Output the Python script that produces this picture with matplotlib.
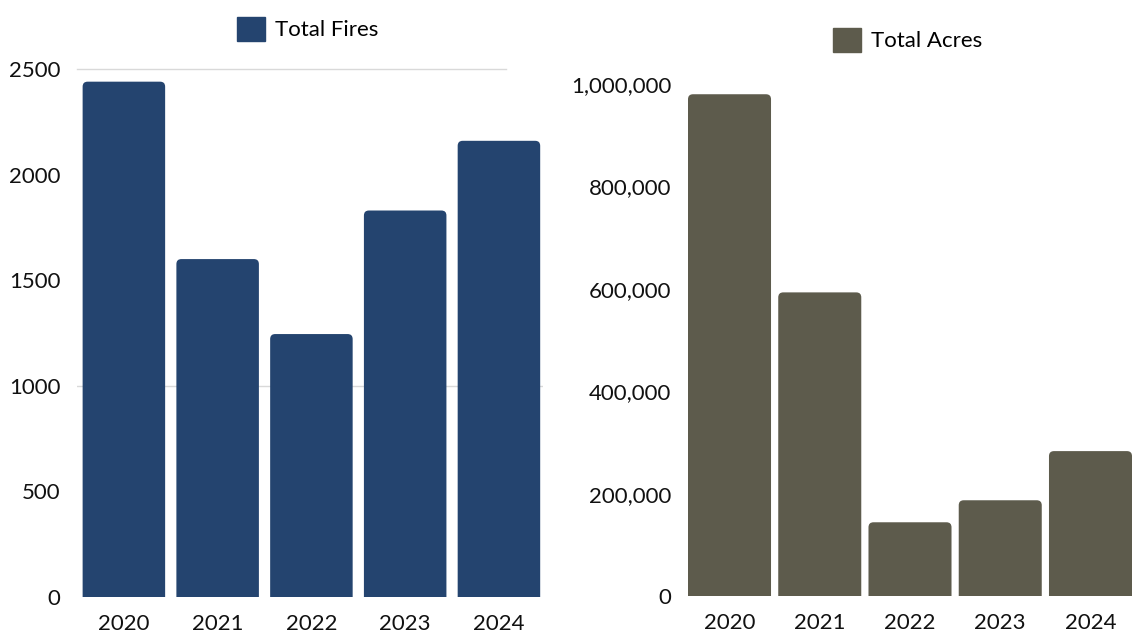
import matplotlib
matplotlib.use('Agg')
import matplotlib.pyplot as plt
from matplotlib.patches import Patch, FancyBboxPatch
from matplotlib.ticker import FuncFormatter

plt.rcParams['font.family'] = ['Lato', 'DejaVu Sans']

# data
years = ['2020', '2021', '2022', '2023', '2024']
total_fires = [2440, 1600, 1245, 1830, 2160]
total_acres = [980000, 593000, 144000, 187000, 283000]

fire_color = '#24446f'
acre_color = '#5d5b4c'

fig = plt.figure(figsize=(11.32, 6.33), dpi=100)


def round_tops(ax, bars, radius_px=5):
    # swap plain bars for ones with rounded top corners
    fig.canvas.draw()
    tr = ax.transData
    x0, y0 = tr.transform((0, 0))
    x1, y1 = tr.transform((1, 1))
    px_x = abs(x1 - x0)
    px_y = abs(y1 - y0)
    rx = radius_px / px_x
    ry = radius_px / px_y
    for b in bars:
        b.set_visible(False)
        fb = FancyBboxPatch((b.get_x(), -ry * 2), b.get_width(), b.get_height() + ry * 2,
                            boxstyle=f'round,pad=0,rounding_size={rx}',
                            mutation_aspect=ry / rx, facecolor=b.get_facecolor(),
                            edgecolor='none', zorder=2)
        ax.add_patch(fb)


# left chart: fires
ax1 = fig.add_axes([77 / 1132, 36 / 633, 466 / 1132, 528 / 633])
bars1 = ax1.bar(range(len(years)), total_fires, width=0.88, color=fire_color, zorder=2)
ax1.set_xlim(-0.5, 4.47)
ax1.set_ylim(0, 2500)
ax1.set_yticks([0, 500, 1000, 1500, 2000, 2500])
ax1.axhline(2500, xmin=0, xmax=0.92, color='#d9d9d9', linewidth=1, zorder=0, clip_on=False)
ax1.axhline(1000, color='#d9d9d9', linewidth=1, zorder=0)

# right chart: acres
ax2 = fig.add_axes([688 / 1132, 37 / 633, 444 / 1132, 512 / 633])
bars2 = ax2.bar(range(len(years)), total_acres, width=0.92, color=acre_color, zorder=2)
ax2.set_xlim(-0.46, 4.46)
ax2.set_ylim(0, 1000000)
ax2.set_yticks([0, 200000, 400000, 600000, 800000, 1000000])
ax2.yaxis.set_major_formatter(FuncFormatter(lambda v, p: f'{int(v):,}'))

for ax in (ax1, ax2):
    ax.set_xticks(range(len(years)))
    ax.set_xticklabels(years)
    for s in ax.spines.values():
        s.set_visible(False)
    ax.tick_params(axis='both', length=0, labelsize=16, colors='#111111')
    ax.tick_params(axis='x', pad=12)
    ax.tick_params(axis='y', pad=12)

round_tops(ax1, bars1)
round_tops(ax2, bars2)

fig.legend(handles=[Patch(color=fire_color, label='Total Fires')], loc='center',
           bbox_to_anchor=(308 / 1132, 1 - 29 / 633), frameon=False, fontsize=16,
           handlelength=1.25, handleheight=1.25, handletextpad=0.45)
fig.legend(handles=[Patch(color=acre_color, label='Total Acres')], loc='center',
           bbox_to_anchor=(908 / 1132, 1 - 40 / 633), frameon=False, fontsize=16,
           handlelength=1.25, handleheight=1.25, handletextpad=0.45)

fig.savefig('out.png', dpi=100)
